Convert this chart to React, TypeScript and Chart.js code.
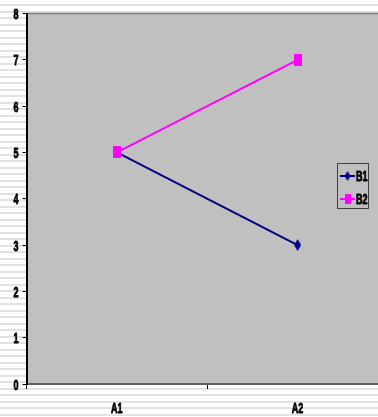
import React, { useEffect, useRef } from "react";
import { Chart, registerables } from "chart.js";

Chart.register(...registerables);

const categories = ["A1", "A2"];
const seriesNames = ["B1", "B2"];
const b1Values = [5, 3];
const b2Values = [5, 7];
const yTicks = [0, 1, 2, 3, 4, 5, 6, 7, 8];

const NAVY = "#000080";
const MAGENTA = "#FF00FF";
const FONT = '"Liberation Sans", Arial, sans-serif';
const LABEL_FONT = "bold 15px " + FONT;
const SQUEEZE = 0.6;

function makeDiamond(w: number, h: number, color: string) {
  const c = document.createElement("canvas");
  c.width = w;
  c.height = h;
  const ctx = c.getContext("2d")!;
  ctx.fillStyle = color;
  ctx.beginPath();
  ctx.moveTo(w / 2, 0);
  ctx.lineTo(w, h / 2);
  ctx.lineTo(w / 2, h);
  ctx.lineTo(0, h / 2);
  ctx.closePath();
  ctx.fill();
  return c;
}

function makeRect(w: number, h: number, color: string) {
  const c = document.createElement("canvas");
  c.width = w;
  c.height = h;
  const ctx = c.getContext("2d")!;
  ctx.fillStyle = color;
  ctx.fillRect(0, 0, w, h);
  return c;
}

function squeezedText(ctx: CanvasRenderingContext2D, text: string, x: number, y: number, align: CanvasTextAlign) {
  ctx.save();
  ctx.translate(x, y);
  ctx.scale(SQUEEZE, 1);
  ctx.font = LABEL_FONT;
  ctx.fillStyle = "#000";
  ctx.strokeStyle = "#000";
  ctx.lineWidth = 0.9;
  ctx.lineJoin = "round";
  ctx.textAlign = align;
  ctx.textBaseline = "middle";
  ctx.fillText(text, 0, 0);
  ctx.strokeText(text, 0, 0);
  ctx.restore();
}

export default function App() {
  const ref = useRef<HTMLCanvasElement | null>(null);

  useEffect(() => {
    document.body.style.margin = "0";
    const canvas = ref.current;
    if (!canvas) return;

    const diamond = makeDiamond(7, 12, NAVY);
    const rect = makeRect(8, 12, MAGENTA);
    const legDiamond = makeDiamond(6, 10, NAVY);
    const legRect = makeRect(6, 10, MAGENTA);

    const bgPlugin = {
      id: "plotBg",
      beforeDraw(chart: any) {
        const { ctx, chartArea } = chart;
        ctx.save();
        ctx.fillStyle = "#C0C0C0";
        ctx.fillRect(chartArea.left, chartArea.top, chartArea.right - chartArea.left, chartArea.bottom - chartArea.top);
        ctx.strokeStyle = "#808080";
        ctx.lineWidth = 1.5;
        ctx.beginPath();
        ctx.moveTo(chartArea.left, chartArea.top);
        ctx.lineTo(chartArea.right, chartArea.top);
        ctx.stroke();
        ctx.restore();
      },
    };

    const labelsPlugin = {
      id: "axisLabels",
      afterDraw(chart: any) {
        const ctx = chart.ctx;
        const xs = chart.scales.x;
        const ys = chart.scales.y;
        yTicks.forEach((v) => {
          squeezedText(ctx, String(v), ys.right - 8, ys.getPixelForValue(v) + 1.5, "right");
        });
        categories.forEach((c, i) => {
          squeezedText(ctx, c, xs.getPixelForValue(i), xs.top + 24.5, "center");
        });
      },
    };

    const legendPlugin = {
      id: "customLegend",
      afterDraw(chart: any) {
        const ctx = chart.ctx;
        const x = 337.5;
        const y = 163.5;
        const w = 31;
        const h = 45;
        ctx.save();
        ctx.fillStyle = "#C0C0C0";
        ctx.fillRect(x, y, w, h);
        ctx.strokeStyle = "#404040";
        ctx.lineWidth = 1;
        ctx.strokeRect(x, y, w, h);
        const colors = [NAVY, MAGENTA];
        const markers = [legDiamond, legRect];
        const rows = [176, 199];
        seriesNames.forEach((name, i) => {
          const ry = rows[i];
          ctx.strokeStyle = colors[i];
          ctx.lineWidth = 2;
          ctx.beginPath();
          ctx.moveTo(340, ry);
          ctx.lineTo(355, ry);
          ctx.stroke();
          const m = markers[i];
          ctx.drawImage(m, 347.5 - m.width / 2, ry - m.height / 2);
          squeezedText(ctx, name, 356, ry + 1, "left");
        });
        ctx.restore();
      },
    };

    const chart = new Chart(canvas, {
      type: "line",
      data: {
        labels: categories,
        datasets: [
          {
            label: seriesNames[0],
            data: b1Values,
            borderColor: NAVY,
            backgroundColor: NAVY,
            borderWidth: 2,
            pointStyle: diamond as any,
            pointRadius: 6,
            fill: false,
            order: 1,
          },
          {
            label: seriesNames[1],
            data: b2Values,
            borderColor: MAGENTA,
            backgroundColor: MAGENTA,
            borderWidth: 2,
            pointStyle: rect as any,
            pointRadius: 6,
            fill: false,
            order: 0,
          },
        ],
      },
      options: {
        responsive: false,
        animation: false,
        devicePixelRatio: 1,
        layout: { padding: { top: 13.5, right: 2.5, left: 0, bottom: 0 } },
        plugins: {
          legend: { display: false },
          tooltip: { enabled: false },
        },
        scales: {
          x: {
            type: "category",
            offset: true,
            grid: {
              offset: true,
              drawOnChartArea: false,
              drawTicks: true,
              tickLength: 5,
              color: "#000",
              lineWidth: 1,
            },
            border: { display: true, color: "#606060", width: 2 },
            ticks: { display: false },
            afterFit(scale: any) {
              scale.height = 33;
            },
          },
          y: {
            min: 0,
            max: 8,
            afterBuildTicks(scale: any) {
              scale.ticks = yTicks.map((v) => ({ value: v }));
            },
            grid: {
              drawOnChartArea: false,
              drawTicks: true,
              tickLength: 4,
              color: "#000",
              lineWidth: 1,
            },
            border: { display: true, color: "#000", width: 2 },
            ticks: { display: false },
            afterFit(scale: any) {
              scale.width = 26.5;
            },
          },
        },
      },
      plugins: [bgPlugin, labelsPlugin, legendPlugin],
    });

    return () => chart.destroy();
  }, []);

  return (
    <div
      style={{
        position: "relative",
        width: 378,
        height: 417,
        overflow: "hidden",
        background:
          "repeating-linear-gradient(to bottom, #ffffff 0px, #ffffff 4.5px, #e2e2e2 4.5px, #e2e2e2 6.5px)",
      }}
    >
      <canvas ref={ref} width={396} height={417} style={{ position: "absolute", left: 0, top: 0 }} />
    </div>
  );
}
